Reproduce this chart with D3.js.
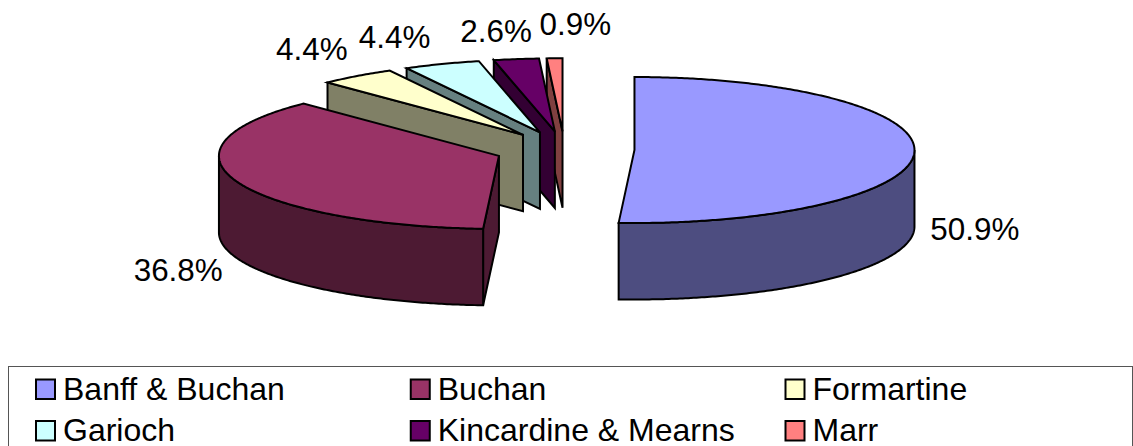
<!DOCTYPE html>
<html>
<head>
<meta charset="utf-8">
<title>Exploded 3D pie</title>
<script src="https://cdn.jsdelivr.net/npm/d3@7/dist/d3.min.js"></script>
<style>
  html, body { margin: 0; padding: 0; background: #fff; overflow: hidden; }
  text { font-family: "Liberation Sans", Arial, sans-serif; fill: #000; }
</style>
</head>
<body>
<svg id="chart" width="1133" height="446"></svg>
<script>
// Share of the total per area, in percent
const areas = ["Banff & Buchan", "Buchan", "Formartine", "Garioch", "Kincardine & Mearns", "Marr"];
const shares = [50.9, 36.8, 4.4, 4.4, 2.6, 0.9];
const topColours = ["#9999FF", "#993366", "#FFFFCC", "#CCFFFF", "#660066", "#FF8080"];
const sideColours = ["#4D4D80", "#4D1A33", "#808066", "#668080", "#330033", "#804040"];

// Pie projection
const centre = { x: 564.5, y: 149.5 };
const radiusX = 280, radiusY = 73, depth = 76.5, explode = 70;

// Offset of each percentage label from the middle of its slice's rim
const labelShift = [[16, 88], [-103, 99.5], [-81, -16.5], [-83, -16.5], [-56, -17.5], [-15, -23.5]];

const svg = d3.select("#chart");
const TAU = 2 * Math.PI;

const slices = d3.pie().sort(null).startAngle(0).endAngle(TAU)
  .value((d) => d)(shares);

const projX = d3.scaleLinear().domain([-1, 1]).range([-radiusX, radiusX]);
const projY = d3.scaleLinear().domain([-1, 1]).range([radiusY, -radiusY]);
const line = d3.line();

function rim(c, a) {
  return [c.x + projX(Math.sin(a)), c.y + projY(Math.cos(a))];
}
function rimRun(c, a0, a1) {
  const steps = Math.max(2, Math.ceil(Math.abs(a1 - a0) / 0.01));
  return d3.range(steps + 1).map((i) => rim(c, a0 + (a1 - a0) * i / steps));
}
const lower = (p) => [p[0], p[1] + depth];

const pieces = slices.map((s) => {
  const mid = (s.startAngle + s.endAngle) / 2;
  const c = {
    x: centre.x + projX(Math.sin(mid)) * explode / radiusX,
    y: centre.y + projY(Math.cos(mid)) * explode / radiusX
  };
  return { ...s, mid, c };
});

const g = svg.append("g")
  .attr("stroke", "#000").attr("stroke-width", 2).attr("stroke-linejoin", "miter");

// Back slices first so the nearer ones overlap them
pieces.slice().reverse().forEach((p) => {
  const i = p.index;
  const apex = [p.c.x, p.c.y];

  // Cut face along the slice's leading edge, where it turns toward the viewer
  if (p.startAngle > Math.PI) {
    const edge = rim(p.c, p.startAngle);
    g.append("path")
      .attr("d", line([apex, edge, lower(edge), lower(apex)]) + "Z")
      .attr("fill", sideColours[i]);
  }

  // Outer wall, only for the part of the rim on the near side
  const wallFrom = Math.max(p.startAngle, Math.PI / 2);
  const wallTo = Math.min(p.endAngle, 3 * Math.PI / 2);
  if (wallTo > wallFrom) {
    const run = rimRun(p.c, wallFrom, wallTo);
    g.append("path")
      .attr("d", line(run.concat(run.slice().reverse().map(lower))) + "Z")
      .attr("fill", sideColours[i]);
  }

  // Top surface
  g.append("path")
    .attr("d", line([apex].concat(rimRun(p.c, p.startAngle, p.endAngle))) + "Z")
    .attr("fill", topColours[i]);
});

// Percentage labels
const pct = d3.format(".1f");
svg.append("g").selectAll("text").data(pieces).join("text")
  .attr("x", (p) => rim(p.c, p.mid)[0] + labelShift[p.index][0])
  .attr("y", (p) => rim(p.c, p.mid)[1] + labelShift[p.index][1])
  .attr("font-size", 31.4)
  .text((p) => pct(p.data) + "%");

// Legend box, running off the bottom edge of the frame
svg.append("rect")
  .attr("x", 8.5).attr("y", 366.5).attr("width", 1124).attr("height", 90)
  .attr("fill", "#fff").attr("stroke", "#555").attr("stroke-width", 1);

const legendCol = d3.scalePoint().domain([0, 1, 2]).range([36, 785.5]);
const legendRow = d3.scalePoint().domain([0, 1]).range([379.5, 421]);

const item = svg.append("g").selectAll("g").data(areas).join("g")
  .attr("transform", (d, i) => `translate(${legendCol(i % 3)},${legendRow(Math.floor(i / 3))})`);

item.append("rect")
  .attr("width", 19).attr("height", 19.5)
  .attr("fill", (d, i) => topColours[i])
  .attr("stroke", "#000").attr("stroke-width", 2);

item.append("text")
  .attr("x", 27).attr("y", 20)
  .attr("font-size", 32)
  .text((d) => d);
</script>
</body>
</html>
